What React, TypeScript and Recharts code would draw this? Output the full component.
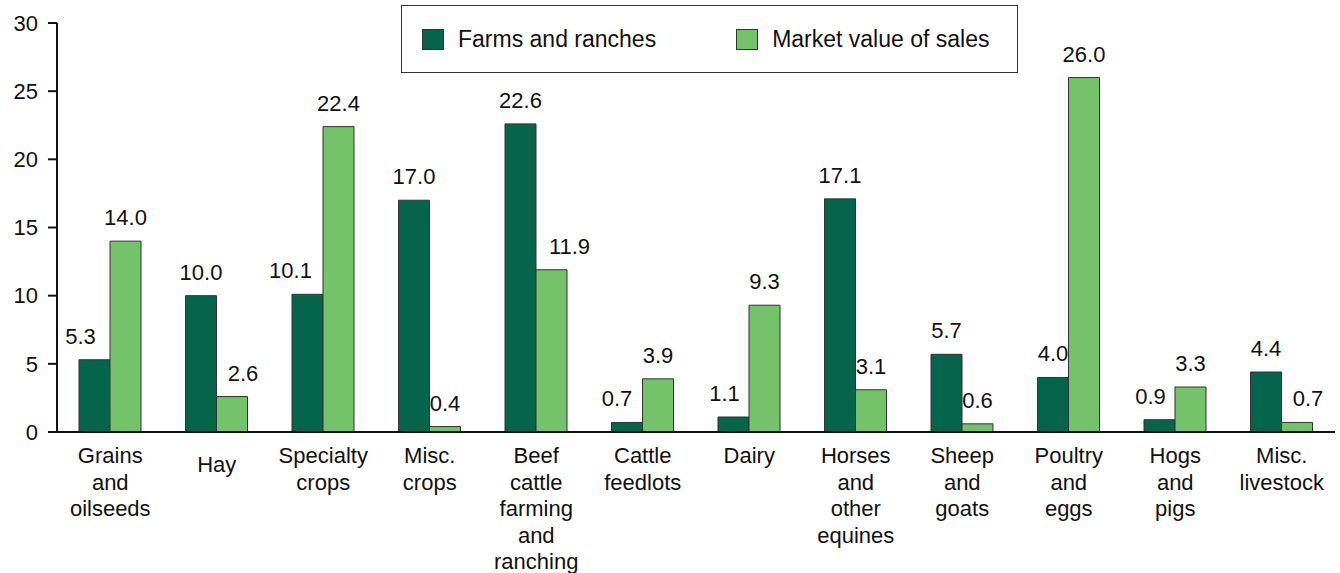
import { BarChart, Bar, XAxis, YAxis, LabelList } from "recharts";

// カテゴリと 2 系列（%）
const CATEGORIES = [
  "Grains\nand\noilseeds",
  "Hay",
  "Specialty\ncrops",
  "Misc.\ncrops",
  "Beef\ncattle\nfarming\nand\nranching",
  "Cattle\nfeedlots",
  "Dairy",
  "Horses\nand\nother\nequines",
  "Sheep\nand\ngoats",
  "Poultry\nand\neggs",
  "Hogs\nand\npigs",
  "Misc.\nlivestock",
];
const FARMS = [5.3, 10.0, 10.1, 17.0, 22.6, 0.7, 1.1, 17.1, 5.7, 4.0, 0.9, 4.4];
const SALES = [14.0, 2.6, 22.4, 0.4, 11.9, 3.9, 9.3, 3.1, 0.6, 26.0, 3.3, 0.7];
const Y_TICKS = [0, 5, 10, 15, 20, 25, 30];
const SERIES_NAMES = ["Farms and ranches", "Market value of sales"];

const DARK = "#05654a";
const LIGHT = "#74c26a";
const FONT = "'Liberation Sans', Arial, Helvetica, sans-serif";
const FS = 22;

// 重なりを避けるためのラベル横ずらし（元図に合わせる）
const FARMS_NUDGE: Record<number, number> = { 0: -14, 2: -17, 5: -10, 6: -9, 10: -9 };
const SALES_NUDGE: Record<number, number> = { 1: 11, 4: 18, 11: 11 };

const data = CATEGORIES.map((c, i) => ({ name: c, farms: FARMS[i], sales: SALES[i] }));

const makeLabel = (nudge: Record<number, number>) => (props: any) => {
  const vb = props.viewBox ?? props;
  const x = (vb.x ?? props.x) as number;
  const y = (vb.y ?? props.y) as number;
  const w = (vb.width ?? props.width) as number;
  const idx = props.index as number;
  return (
    <text
      x={x + w / 2 + (nudge[idx] ?? 0)}
      y={y - 16}
      textAnchor="middle"
      fill="#111"
      fontSize={FS}
      fontFamily={FONT}
    >
      {Number(props.value).toFixed(1)}
    </text>
  );
};

// 複数行の x 軸ラベル
const CategoryTick = ({ x, y, payload }: { x?: number; y?: number; payload?: { value: string } }) => {
  const lines = (payload?.value ?? "").split("\n");
  const shift = payload?.value === "Hay" ? 9 : 0;
  return (
    <text x={x} y={(y ?? 0) + 29 + shift} textAnchor="middle" fill="#111" fontSize={FS} fontFamily={FONT}>
      {lines.map((l, i) => (
        <tspan key={i} x={x} dy={i === 0 ? 0 : 26.5}>
          {l}
        </tspan>
      ))}
    </text>
  );
};

// 凡例（枠付き）
const LegendBox = () => (
  <div
    style={{
      position: "absolute",
      left: 401,
      top: 5,
      width: 617,
      height: 68,
      border: "1.5px solid #333",
      boxSizing: "border-box",
      display: "flex",
      alignItems: "center",
      fontFamily: FONT,
      fontSize: 23,
      color: "#111",
      background: "#fff",
    }}
  >
    <span style={{ display: "inline-block", width: 22, height: 21, background: DARK, border: "1px solid #333", marginLeft: 20, boxSizing: "border-box" }} />
    <span style={{ marginLeft: 14 }}>{SERIES_NAMES[0]}</span>
    <span style={{ display: "inline-block", width: 22, height: 21, background: LIGHT, border: "1px solid #333", marginLeft: 80, boxSizing: "border-box" }} />
    <span style={{ marginLeft: 14 }}>{SERIES_NAMES[1]}</span>
  </div>
);

export default function App() {
  return (
    <div style={{ position: "absolute", left: 0, top: 0, width: 1340, height: 573, background: "#fff" }}>
      <BarChart
        width={1340}
        height={573}
        data={data}
        margin={{ top: 23, right: 5, left: 0, bottom: 5 }}
        barGap={0}
        barSize={31}
      >
        <XAxis
          dataKey="name"
          interval={0}
          height={136}
          tick={<CategoryTick />}
          tickLine={false}
          tickSize={0}
          axisLine={{ stroke: "#111", strokeWidth: 2 }}
        />
        <YAxis
          width={57}
          domain={[0, 30]}
          ticks={Y_TICKS}
          interval={0}
          tickSize={9}
          tickMargin={10}
          tick={{ fill: "#111", fontSize: FS, fontFamily: FONT }}
          tickLine={{ stroke: "#111", strokeWidth: 2 }}
          axisLine={{ stroke: "#111", strokeWidth: 2 }}
        />
        <Bar dataKey="farms" name={SERIES_NAMES[0]} fill={DARK} stroke="#333" strokeWidth={1} isAnimationActive={false}>
          <LabelList dataKey="farms" content={makeLabel(FARMS_NUDGE)} />
        </Bar>
        <Bar dataKey="sales" name={SERIES_NAMES[1]} fill={LIGHT} stroke="#333" strokeWidth={1} isAnimationActive={false}>
          <LabelList dataKey="sales" content={makeLabel(SALES_NUDGE)} />
        </Bar>
      </BarChart>
      <LegendBox />
    </div>
  );
}
